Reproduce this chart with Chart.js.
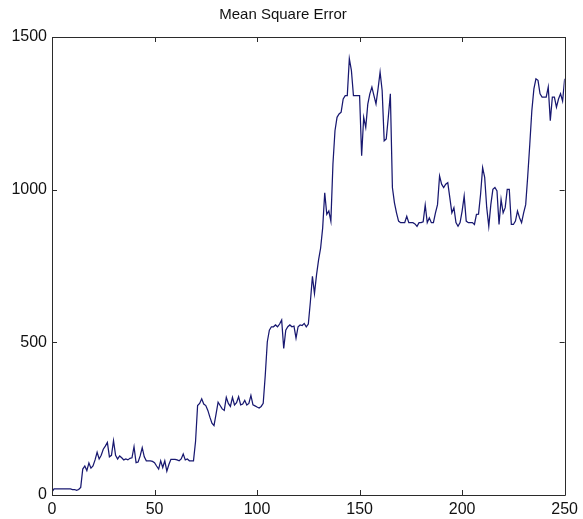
<!DOCTYPE html>
<html>
<head>
<meta charset="utf-8">
<title>Mean Square Error</title>
<script src="https://cdn.jsdelivr.net/npm/chart.js@4.4.1/dist/chart.umd.min.js"></script>
<style>
  html, body { margin: 0; padding: 0; background: #ffffff; }
  #wrap { width: 583px; height: 519px; }
</style>
</head>
<body>
<div id="wrap"><canvas id="mseChart" width="583" height="519"></canvas></div>
<script>
// --- DATA ---
const chartTitle = 'Mean Square Error';
const xTicks = [0, 50, 100, 150, 200, 250];
const yTicks = [0, 500, 1000, 1500];
// MSE per iteration (iteration 0 .. 250)
const mseValues = [
  10, 20, 20, 20, 20, 20, 20, 20, 20, 20,
  18, 18, 15, 18, 25, 85, 95, 80, 105, 88,
  95, 115, 140, 118, 130, 150, 160, 172, 125, 130,
  178, 130, 118, 128, 122, 115, 118, 115, 120, 122,
  158, 106, 108, 128, 155, 125, 112, 112, 112, 110,
  106, 95, 85, 112, 90, 112, 78, 100, 117, 117,
  117, 115, 112, 118, 134, 115, 118, 112, 112, 112,
  175, 293, 300, 315, 298, 293, 277, 255, 235, 227,
  265, 304, 293, 282, 277, 320, 300, 290, 320, 295,
  302, 322, 295, 298, 310, 295, 300, 326, 295, 292,
  288, 285, 290, 300, 392, 502, 540, 551, 551, 557,
  551, 560, 573, 480, 540, 551, 557, 551, 553, 514,
  551, 557, 555, 562, 551, 560, 633, 716, 660, 721,
  770, 809, 875, 990, 919, 930, 897, 1083, 1193, 1237,
  1248, 1254, 1297, 1308, 1308, 1429, 1391, 1308, 1308, 1308,
  1308, 1111, 1237, 1204, 1280, 1314, 1336, 1308, 1281, 1330,
  1385, 1325, 1160, 1166, 1237, 1314, 1007, 957, 924, 897,
  892, 892, 892, 913, 892, 892, 892, 888, 880, 892,
  892, 895, 950, 892, 908, 892, 892, 924, 951, 1045,
  1018, 1007, 1018, 1023, 974, 924, 941, 892, 880, 892,
  930, 979, 897, 892, 892, 892, 886, 919, 920, 985,
  1072, 1040, 941, 880, 951, 1001, 1007, 996, 886, 968,
  924, 941, 1001, 1001, 886, 886, 897, 930, 908, 892,
  924, 951, 1045, 1149, 1259, 1330, 1363, 1358, 1314, 1303,
  1303, 1303, 1336, 1226, 1303, 1303, 1270, 1297, 1314, 1290,
  1363
];

const FONT = "'Liberation Sans', Arial, Helvetica, sans-serif";

// caixa do eixo + ticks para dentro (estilo MATLAB)
const frameTicks = {
  id: 'frameTicks',
  afterDatasetsDraw(chart) {
    const { ctx, chartArea: a, scales } = chart;
    const len = 5;
    ctx.save();
    ctx.strokeStyle = '#2b2b2b';
    ctx.lineWidth = 1;
    ctx.beginPath();
    ctx.rect(Math.round(a.left) + 0.5, Math.round(a.top) + 0.5,
      Math.round(a.right - a.left), Math.round(a.bottom - a.top));
    scales.x.ticks.forEach((t) => {
      const px = Math.round(scales.x.getPixelForValue(t.value)) + 0.5;
      ctx.moveTo(px, a.bottom); ctx.lineTo(px, a.bottom - len);
      ctx.moveTo(px, a.top); ctx.lineTo(px, a.top + len);
    });
    scales.y.ticks.forEach((t) => {
      const py = Math.round(scales.y.getPixelForValue(t.value)) + 0.5;
      ctx.moveTo(a.left, py); ctx.lineTo(a.left + len, py);
      ctx.moveTo(a.right, py); ctx.lineTo(a.right - len, py);
    });
    ctx.stroke();
    ctx.restore();
  },
};

const ctx = document.getElementById('mseChart').getContext('2d');
new Chart(ctx, {
  type: 'line',
  data: {
    datasets: [{
      label: chartTitle,
      data: mseValues.map((v, i) => ({ x: i, y: v })),
      borderColor: '#181870',
      borderWidth: 1.25,
      pointRadius: 0,
      tension: 0,
      fill: false,
    }],
  },
  options: {
    responsive: false,
    animation: false,
    layout: { autoPadding: false, padding: { top: 0, right: 17, bottom: 0, left: 0 } },
    scales: {
      x: {
        type: 'linear',
        min: xTicks[0],
        max: xTicks[xTicks.length - 1],
        afterBuildTicks: (s) => { s.ticks = xTicks.map((v) => ({ value: v })); },
        afterFit: (s) => { s.height = 24; },
        grid: { display: false, drawTicks: false },
        border: { display: false },
        ticks: {
          color: '#111', padding: 5, maxRotation: 0,
          font: { family: FONT, size: 16 },
          callback: (v) => String(v),
        },
      },
      y: {
        min: yTicks[0],
        max: yTicks[yTicks.length - 1],
        afterBuildTicks: (s) => { s.ticks = yTicks.map((v) => ({ value: v })); },
        afterFit: (s) => { s.width = 52; },
        grid: { display: false, drawTicks: false },
        border: { display: false },
        ticks: {
          color: '#111', padding: 5,
          font: { family: FONT, size: 16 },
          callback: (v) => String(v),
        },
      },
    },
    plugins: {
      legend: { display: false },
      tooltip: { enabled: false },
      title: {
        display: true,
        text: chartTitle,
        color: '#111',
        font: { family: FONT, size: 15, weight: 'normal' },
        padding: { top: 6, bottom: 13 },
      },
    },
  },
  plugins: [frameTicks],
});
</script>
</body>
</html>
